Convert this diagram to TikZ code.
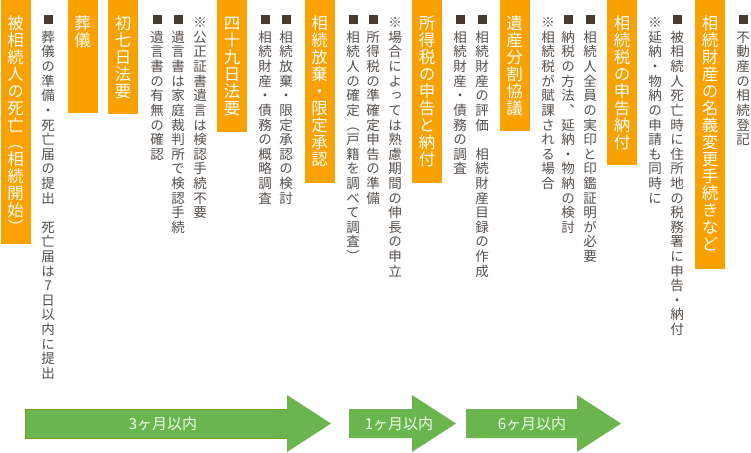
\documentclass[tikz,border=0pt]{standalone}
\usepackage{fontspec}
\setmainfont{Noto Sans CJK JP}[RawFeature={+vert}]
\newfontfamily\yoko{Noto Sans CJK JP}

\definecolor{tagorange}{HTML}{F8A100}
\definecolor{spangreen}{HTML}{6BB54F}
\definecolor{spanedge}{HTML}{7F9B1E}
\definecolor{txtgray}{HTML}{554E4A}
\definecolor{sqbrown}{HTML}{4A3A30}

% vertical (tate) text: one character per line
\def\tateloop#1{\ifx\relax#1\else\hbox to1em{\hss#1\hss}\expandafter\tateloop\fi}
\newcommand\tate[1]{\vtop{\hrule height0pt\prevdepth=0pt\lineskiplimit=-100pt\tateloop#1\relax}}
\newcommand\sq{{\color{sqbrown}\rule[4pt]{9pt}{9pt}}}

\begin{document}
\begin{tikzpicture}[x=1pt, y=-1pt,
  tag/.style={fill=tagorange, text=white, anchor=north, minimum width=30pt,
    inner xsep=0pt, inner ysep=0pt, text height=12pt,
    font=\fontsize{16.5pt}{17pt}\selectfont},
  note/.style={anchor=north, inner sep=0pt, text=txtgray,
    font=\fontsize{13.5pt}{14.6pt}\selectfont},
  span/.style={fill=spangreen},
  spanlabel/.style={text=white!94!green, inner sep=0pt,
    font=\yoko\fontsize{15pt}{15pt}\selectfont}]

  \useasboundingbox (0,0) rectangle (751,452);

  % event tags
  \node[tag, text depth=232pt] (shibou)  at (15.5,0) {\tate{被相続人の死亡（相続開始）}};
  \node[tag, text depth=101pt] (sougi)   at (82.5,0) {\tate{葬儀}};
  \node[tag, text depth=102pt] (shonano) at (123,0)  {\tate{初七日法要}};
  \node[tag, text depth=120pt] (shijuku) at (232,0)  {\tate{四十九日法要}};
  \node[tag, text depth=171pt] (houki)   at (319.5,0){\tate{相続放棄・限定承認}};
  \node[tag, text depth=171pt] (shotoku) at (427,0)  {\tate{所得税の申告と納付}};
  \node[tag, text depth=119pt] (bunkatsu) at (514.5,0){\tate{遺産分割協議}};
  \node[tag, text depth=153pt] (souzoku) at (622,0)  {\tate{相続税の申告納付}};
  \node[tag, text depth=257pt] (meigi)   at (710,0)  {\tate{相続財産の名義変更手続きなど}};

  % notes
  \node[note] (n1)  at (48,13)  {\tate{\sq 葬儀の準備・死亡届の提出　死亡届は7日以内に提出}};
  \node[note] (n2)  at (157,13) {\tate{\sq 遺言書の有無の確認}};
  \node[note] (n3)  at (178,13) {\tate{\sq 遺言書は家庭裁判所で検認手続}};
  \node[note] (n4)  at (200,13) {\tate{※公正証書遺言は検認手続不要}};
  \node[note] (n5)  at (265,13) {\tate{\sq 相続財産・債務の概略調査}};
  \node[note] (n6)  at (286,13) {\tate{\sq 相続放棄・限定承認の検討}};
  \node[note] (n7)  at (353,13) {\tate{\sq 相続人の確定（戸籍を調べて調査）}};
  \node[note] (n8)  at (373,13) {\tate{\sq 所得税の準確定申告の準備}};
  \node[note] (n9)  at (395,13) {\tate{※場合によっては熟慮期間の伸長の申立}};
  \node[note] (n10) at (460,13) {\tate{\sq 相続財産・債務の調査}};
  \node[note] (n11) at (482,13) {\tate{\sq 相続財産の評価　相続財産目録の作成}};
  \node[note] (n12) at (548,13) {\tate{※相続税が賦課される場合}};
  \node[note] (n13) at (568,13) {\tate{\sq 納税の方法、延納・物納の検討}};
  \node[note] (n14) at (590,13) {\tate{\sq 相続人全員の実印と印鑑証明が必要}};
  \node[note] (n15) at (655,13) {\tate{※延納・物納の申請も同時に}};
  \node[note] (n16) at (677,13) {\tate{\sq 被相続人死亡時に住所地の税務署に申告・納付}};
  \node[note] (n17) at (743,13) {\tate{\sq 不動産の相続登記}};

  % time spans
  \fill[span] (25,409) -- (287,409) -- (287,395) -- (331,423.5)
    -- (287,452) -- (287,438) -- (25,438) -- cycle;
  \draw[spanedge, line width=0.8pt] (287,409) -- (25,409) -- (25,438) -- (287,438);
  \fill[span] (349,409) -- (412,409) -- (412,395) -- (456,423.5)
    -- (412,452) -- (412,438) -- (349,438) -- cycle;
  \fill[span] (466,409) -- (577,409) -- (577,395) -- (621,423.5)
    -- (577,452) -- (577,438) -- (466,438) -- cycle;

  \node[spanlabel] (m3) at (163,423.5) {3ヶ月以内};
  \node[spanlabel] (m1) at (399,423.5) {1ヶ月以内};
  \node[spanlabel] (m6) at (532,423.5) {6ヶ月以内};

\end{tikzpicture}
\end{document}
